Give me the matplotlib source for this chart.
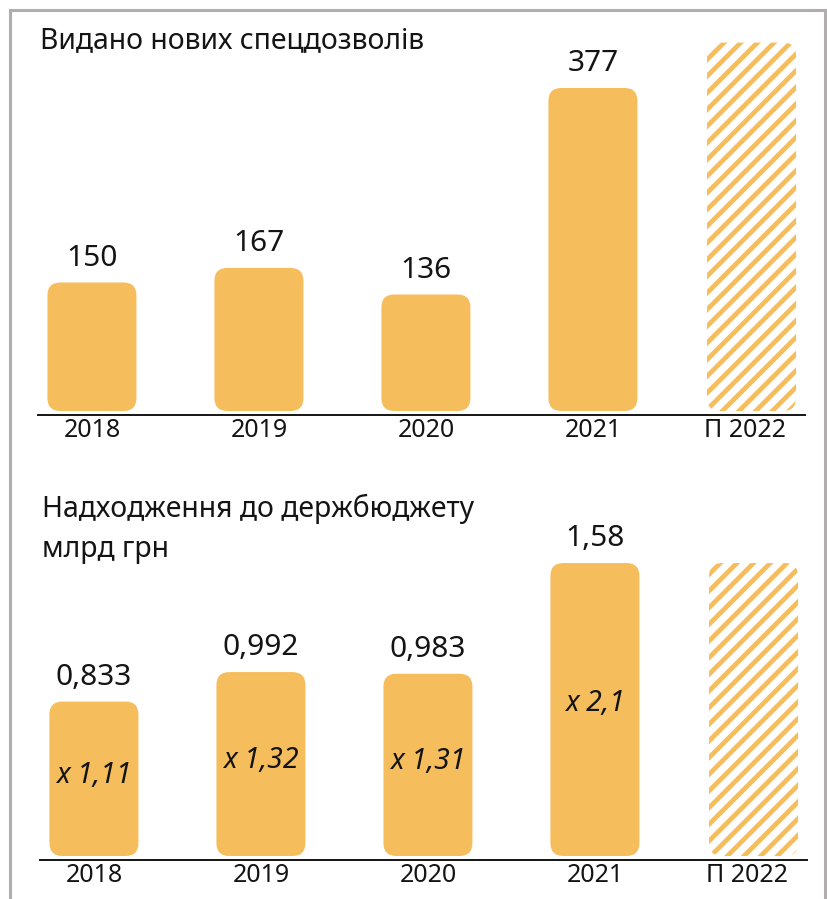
import matplotlib
matplotlib.use("Agg")
import matplotlib.pyplot as plt
from matplotlib.patches import FancyBboxPatch
from matplotlib.lines import Line2D

# data
years = ["2018", "2019", "2020", "2021", "П 2022"]
permits = [150, 167, 136, 377]
permits_forecast = 430          # hatched placeholder, no label
revenue = [0.833, 0.992, 0.983, 1.58]
revenue_labels = ["0,833", "0,992", "0,983", "1,58"]
revenue_growth = ["x 1,11", "x 1,32", "x 1,31", "x 2,1"]
revenue_forecast = 1.58         # hatched placeholder, no label

ORANGE = "#f6bd5d"
INK = "#141414"
W, H = 827, 899

plt.rcParams["font.family"] = ["Noto Sans", "DejaVu Sans"]
plt.rcParams["hatch.linewidth"] = 3.4
plt.rcParams["hatch.color"] = ORANGE

fig = plt.figure(figsize=(W / 100, H / 100), dpi=100)


def px_axes(left, right, top, bottom):
    return fig.add_axes([left / W, 1 - bottom / H, (right - left) / W, (bottom - top) / H])


def round_bars(ax, xs, heights, width, hatched=False, radius=13):
    bars = ax.bar(xs, heights, width=width, color=ORANGE)
    bb = ax.get_window_extent()
    x0, x1 = ax.get_xlim()
    y0, y1 = ax.get_ylim()
    pxx = bb.width / (x1 - x0)
    pxy = bb.height / (y1 - y0)
    for b in bars:
        b.remove()
        p = FancyBboxPatch((b.get_x(), b.get_y()), b.get_width(), b.get_height(),
                           boxstyle="round,pad=0,rounding_size=%f" % (radius / pxx),
                           mutation_aspect=pxx / pxy,
                           facecolor="white" if hatched else ORANGE,
                           edgecolor=ORANGE, linewidth=0,
                           hatch="//" if hatched else None)
        ax.add_patch(p)


def setup(ax, ymax):
    ax.set_xlim(-0.323, 4.27)
    ax.set_ylim(0, ymax)
    for s in ["top", "left", "right"]:
        ax.spines[s].set_visible(False)
    ax.spines["bottom"].set_position(("outward", 3))
    ax.spines["bottom"].set_linewidth(1.4)
    ax.spines["bottom"].set_color(INK)
    ax.set_yticks([])
    ax.set_xticks([0, 1, 2, 3, 3.91])
    ax.set_xticklabels(years, fontsize=18, color=INK)
    ax.tick_params(axis="x", length=0, pad=2)
    ax.patch.set_alpha(0)


pos = [0, 1, 2, 3]
fpos = 3.95
bw = 0.533

# top chart
ax1 = px_axes(38, 805, 40, 411)
setup(ax1, 433)
round_bars(ax1, pos, permits, bw)
round_bars(ax1, [fpos], [permits_forecast], bw, hatched=True)
for x, v in zip(pos, permits):
    ax1.annotate(str(v), (x, v), xytext=(0, 12), textcoords="offset points",
                 ha="center", va="baseline", fontsize=21.5, color=INK)
fig.text(40 / W, 1 - 48 / H, "Видано нових спецдозволів", fontsize=20.4,
         color=INK, ha="left", va="baseline")

# bottom chart
ax2 = px_axes(40, 807, 490, 856)
setup(ax2, 1.974)
round_bars(ax2, pos, revenue, bw)
round_bars(ax2, [fpos], [revenue_forecast], bw, hatched=True)
for x, v, lab, g in zip(pos, revenue, revenue_labels, revenue_growth):
    ax2.annotate(lab, (x, v), xytext=(0, 12), textcoords="offset points",
                 ha="center", va="baseline", fontsize=21.5, color=INK)
    ax2.text(x, v * 0.52, g, ha="center", va="center", fontsize=20.5,
             style="italic", color=INK)
fig.text(42 / W, 1 - 517 / H, "Надходження до держбюджету", fontsize=20.4,
         color=INK, ha="left", va="baseline")
fig.text(42 / W, 1 - 557 / H, "млрд грн", fontsize=20.4,
         color=INK, ha="left", va="baseline")

# grey frame
frame = dict(color="#b1adae", linewidth=2.2, transform=fig.transFigure)
fig.add_artist(Line2D([10 / W, 825 / W], [1 - 10 / H, 1 - 10 / H], **frame))
fig.add_artist(Line2D([10 / W, 10 / W], [1 - 10 / H, 0], **frame))
fig.add_artist(Line2D([825 / W, 825 / W], [1 - 10 / H, 0], **frame))

fig.savefig("out.png", dpi=100)
